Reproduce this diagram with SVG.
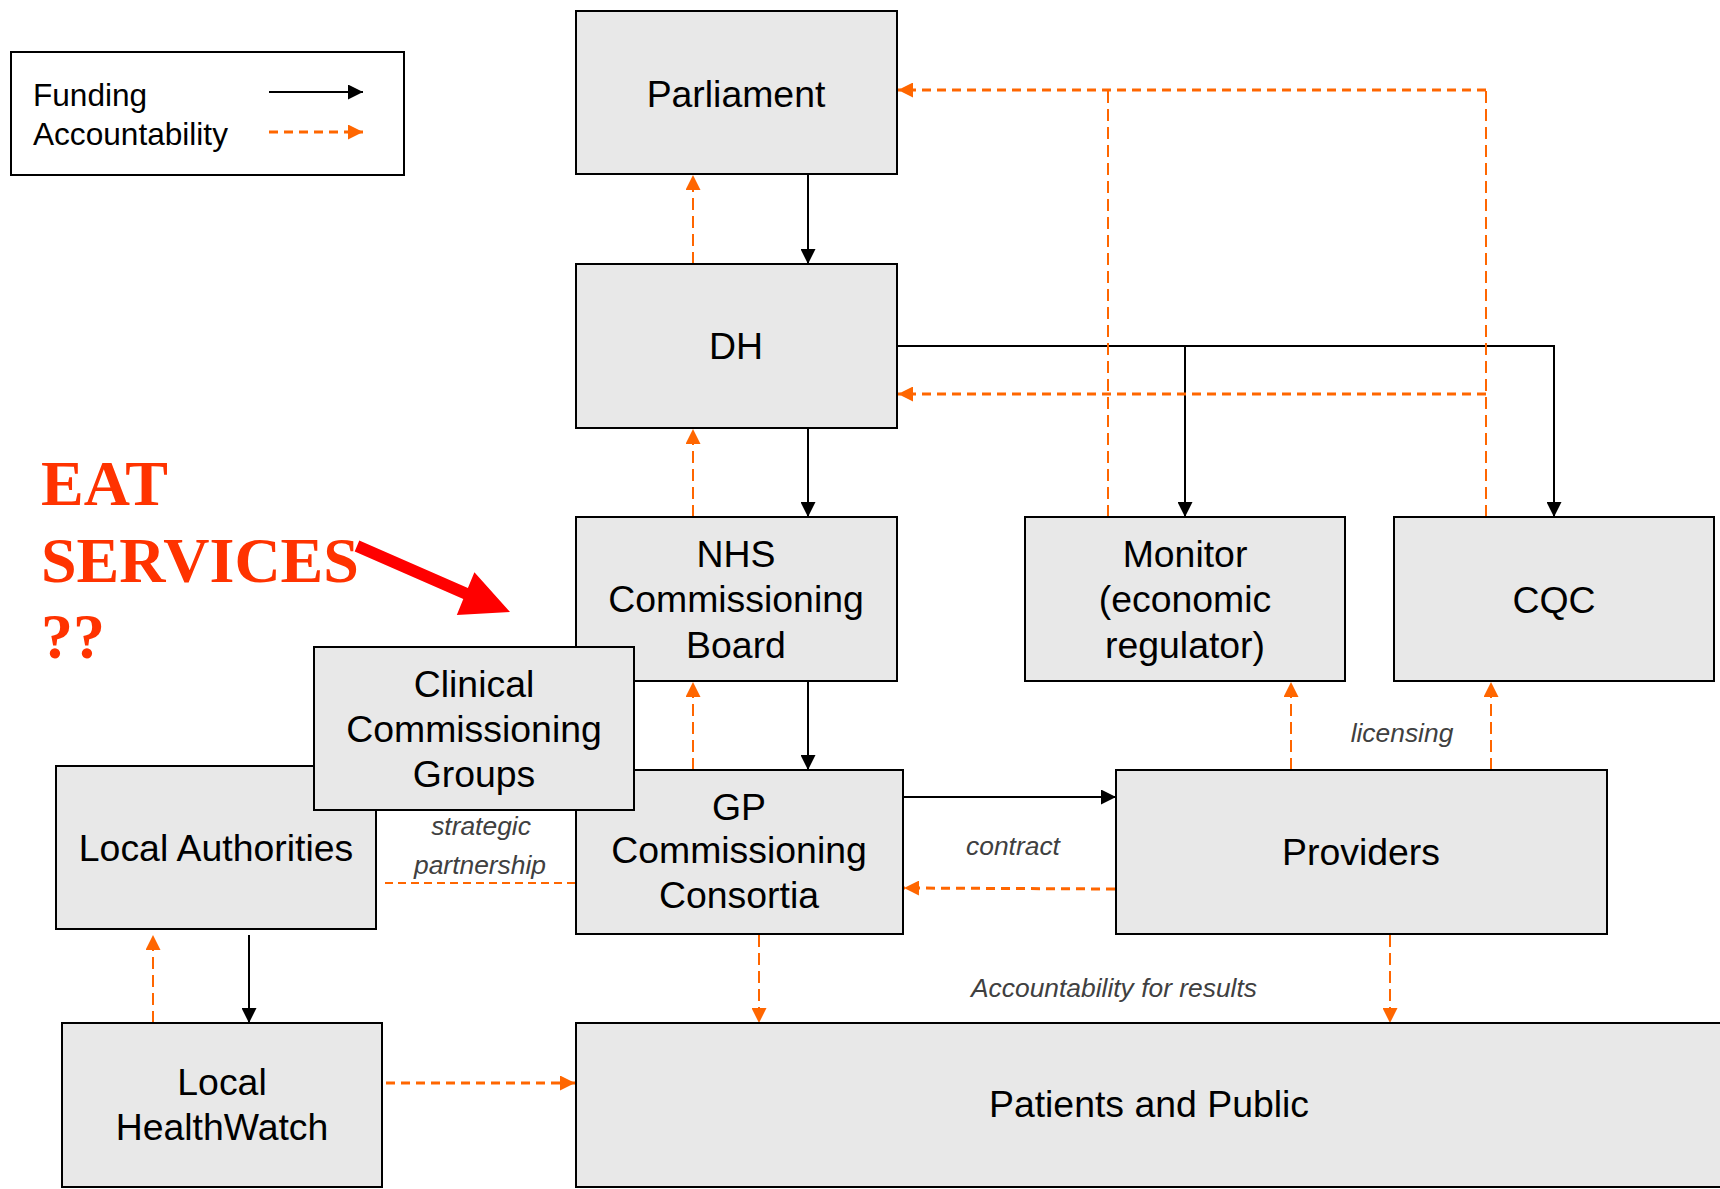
<svg xmlns="http://www.w3.org/2000/svg" width="1720" height="1189" viewBox="0 0 1720 1189">
<defs>
<style>
.box{fill:#e8e8e8;stroke:#000;stroke-width:2}
.t{font-family:"Liberation Sans",Arial,sans-serif;font-size:37.4px;fill:#000;text-anchor:middle}
.lg{font-family:"Liberation Sans",Arial,sans-serif;font-size:31.6px;fill:#000}
.lab{font-family:"Liberation Sans",Arial,sans-serif;font-size:26.4px;font-style:italic;fill:#404040;text-anchor:middle}
.eat{font-family:"Liberation Serif","Times New Roman",serif;font-size:64px;font-weight:bold;fill:#ff3300}
.fund{stroke:#000;stroke-width:2;fill:none}
.acc{stroke:#ff6600;stroke-width:3;stroke-dasharray:9 6;fill:none}
.accv{stroke:#ff6600;stroke-width:2;stroke-dasharray:12 6;fill:none}
</style>
<marker id="ab" viewBox="0 0 15 15" refX="15" refY="7.5" markerWidth="15" markerHeight="15" markerUnits="userSpaceOnUse" orient="auto"><path d="M0,0 L15,7.5 L0,15 z" fill="#000"/></marker>
<marker id="ao" viewBox="0 0 15 15" refX="15" refY="7.5" markerWidth="15" markerHeight="15" markerUnits="userSpaceOnUse" orient="auto"><path d="M0,0 L15,7.5 L0,15 z" fill="#ff6600"/></marker>
</defs>
<rect width="1720" height="1189" fill="#fff"/>

<g id="legend">
<rect x="11" y="52" width="393" height="123" fill="#fff" stroke="#000" stroke-width="2"/>
<text class="lg" x="33" y="106">Funding</text>
<text class="lg" x="33" y="145">Accountability</text>
<line x1="269" y1="92" x2="363" y2="92" class="fund" marker-end="url(#ab)"/>
<line x1="269" y1="132" x2="363" y2="132" class="acc" marker-end="url(#ao)"/>
</g>

<g id="eat-note">
<text class="eat" x="41" y="505">EAT</text>
<text class="eat" x="41" y="582">SERVICES</text>
<text class="eat" x="41" y="658">??</text>
<polygon points="359.3,540.5 467.9,588.1 474.4,572.3 510,612 456.8,614.9 463.3,599.1 354.7,551.5" fill="#ff0000"/>
</g>

<g id="connectors">
<line x1="808" y1="174" x2="808" y2="264" class="fund" marker-end="url(#ab)"/>
<line x1="693" y1="264" x2="693" y2="175" class="accv" marker-end="url(#ao)"/>
<line x1="808" y1="429" x2="808" y2="517" class="fund" marker-end="url(#ab)"/>
<line x1="693" y1="517" x2="693" y2="429" class="accv" marker-end="url(#ao)"/>
<line x1="808" y1="682" x2="808" y2="770" class="fund" marker-end="url(#ab)"/>
<line x1="693" y1="770" x2="693" y2="682" class="accv" marker-end="url(#ao)"/>
<path d="M897,346 H1185 V517" class="fund" marker-end="url(#ab)"/>
<path d="M1185,346 H1554 V517" class="fund" marker-end="url(#ab)"/>
<line x1="1108" y1="517" x2="1108" y2="90" class="accv"/>
<line x1="1486" y1="517" x2="1486" y2="90" class="accv"/>
<line x1="1486" y1="90" x2="898" y2="90" class="acc" marker-end="url(#ao)"/>
<line x1="1486" y1="394" x2="898" y2="394" class="acc" marker-end="url(#ao)"/>
<line x1="903" y1="797" x2="1116" y2="797" class="fund" marker-end="url(#ab)"/>
<line x1="1115" y1="889" x2="904" y2="888" class="acc" marker-end="url(#ao)"/>
<line x1="1291" y1="770" x2="1291" y2="682" class="accv" marker-end="url(#ao)"/>
<line x1="1491" y1="770" x2="1491" y2="682" class="accv" marker-end="url(#ao)"/>
<line x1="759" y1="935" x2="759" y2="1023" class="accv" marker-end="url(#ao)"/>
<line x1="1390" y1="935" x2="1390" y2="1023" class="accv" marker-end="url(#ao)"/>
<line x1="249" y1="935" x2="249" y2="1023" class="fund" marker-end="url(#ab)"/>
<line x1="153" y1="1023" x2="153" y2="935" class="accv" marker-end="url(#ao)"/>
<line x1="386" y1="1083" x2="575" y2="1083" class="acc" marker-end="url(#ao)"/>
<line x1="385" y1="883" x2="575" y2="883" stroke="#ff6600" stroke-width="2" stroke-dasharray="8 5" fill="none"/>
<text class="lab" x="481" y="835">strategic</text>
<text class="lab" x="480" y="874">partnership</text>
<text class="lab" x="1013" y="855">contract</text>
<text class="lab" x="1402" y="742">licensing</text>
<text class="lab" x="1114" y="997">Accountability for results</text>
</g>

<g id="parliament"><rect class="box" x="576" y="11" width="321" height="163"/><text class="t" x="736" y="107">Parliament</text></g>
<g id="dh"><rect class="box" x="576" y="264" width="321" height="164"/><text class="t" x="736" y="359">DH</text></g>
<g id="nhs-board"><rect class="box" x="576" y="517" width="321" height="164"/><text class="t" x="736" y="567">NHS</text><text class="t" x="736" y="612">Commissioning</text><text class="t" x="736" y="658">Board</text></g>
<g id="monitor"><rect class="box" x="1025" y="517" width="320" height="164"/><text class="t" x="1185" y="567">Monitor</text><text class="t" x="1185" y="612">(economic</text><text class="t" x="1185" y="658">regulator)</text></g>
<g id="cqc"><rect class="box" x="1394" y="517" width="320" height="164"/><text class="t" x="1554" y="613">CQC</text></g>
<g id="local-authorities"><rect class="box" x="56" y="766" width="320" height="163"/><text class="t" x="216" y="861">Local Authorities</text></g>
<g id="gp-consortia"><rect class="box" x="576" y="770" width="327" height="164"/><text class="t" x="739" y="820">GP</text><text class="t" x="739" y="863">Commissioning</text><text class="t" x="739" y="908">Consortia</text></g>
<g id="clinical-groups"><rect class="box" x="314" y="647" width="320" height="163"/><text class="t" x="474" y="697">Clinical</text><text class="t" x="474" y="742">Commissioning</text><text class="t" x="474" y="787">Groups</text></g>
<g id="providers"><rect class="box" x="1116" y="770" width="491" height="164"/><text class="t" x="1361" y="865">Providers</text></g>
<g id="local-healthwatch"><rect class="box" x="62" y="1023" width="320" height="164"/><text class="t" x="222" y="1095">Local</text><text class="t" x="222" y="1140">HealthWatch</text></g>
<g id="patients"><rect class="box" x="576" y="1023" width="1160" height="164"/><text class="t" x="1149" y="1117">Patients and Public</text></g>
</svg>
